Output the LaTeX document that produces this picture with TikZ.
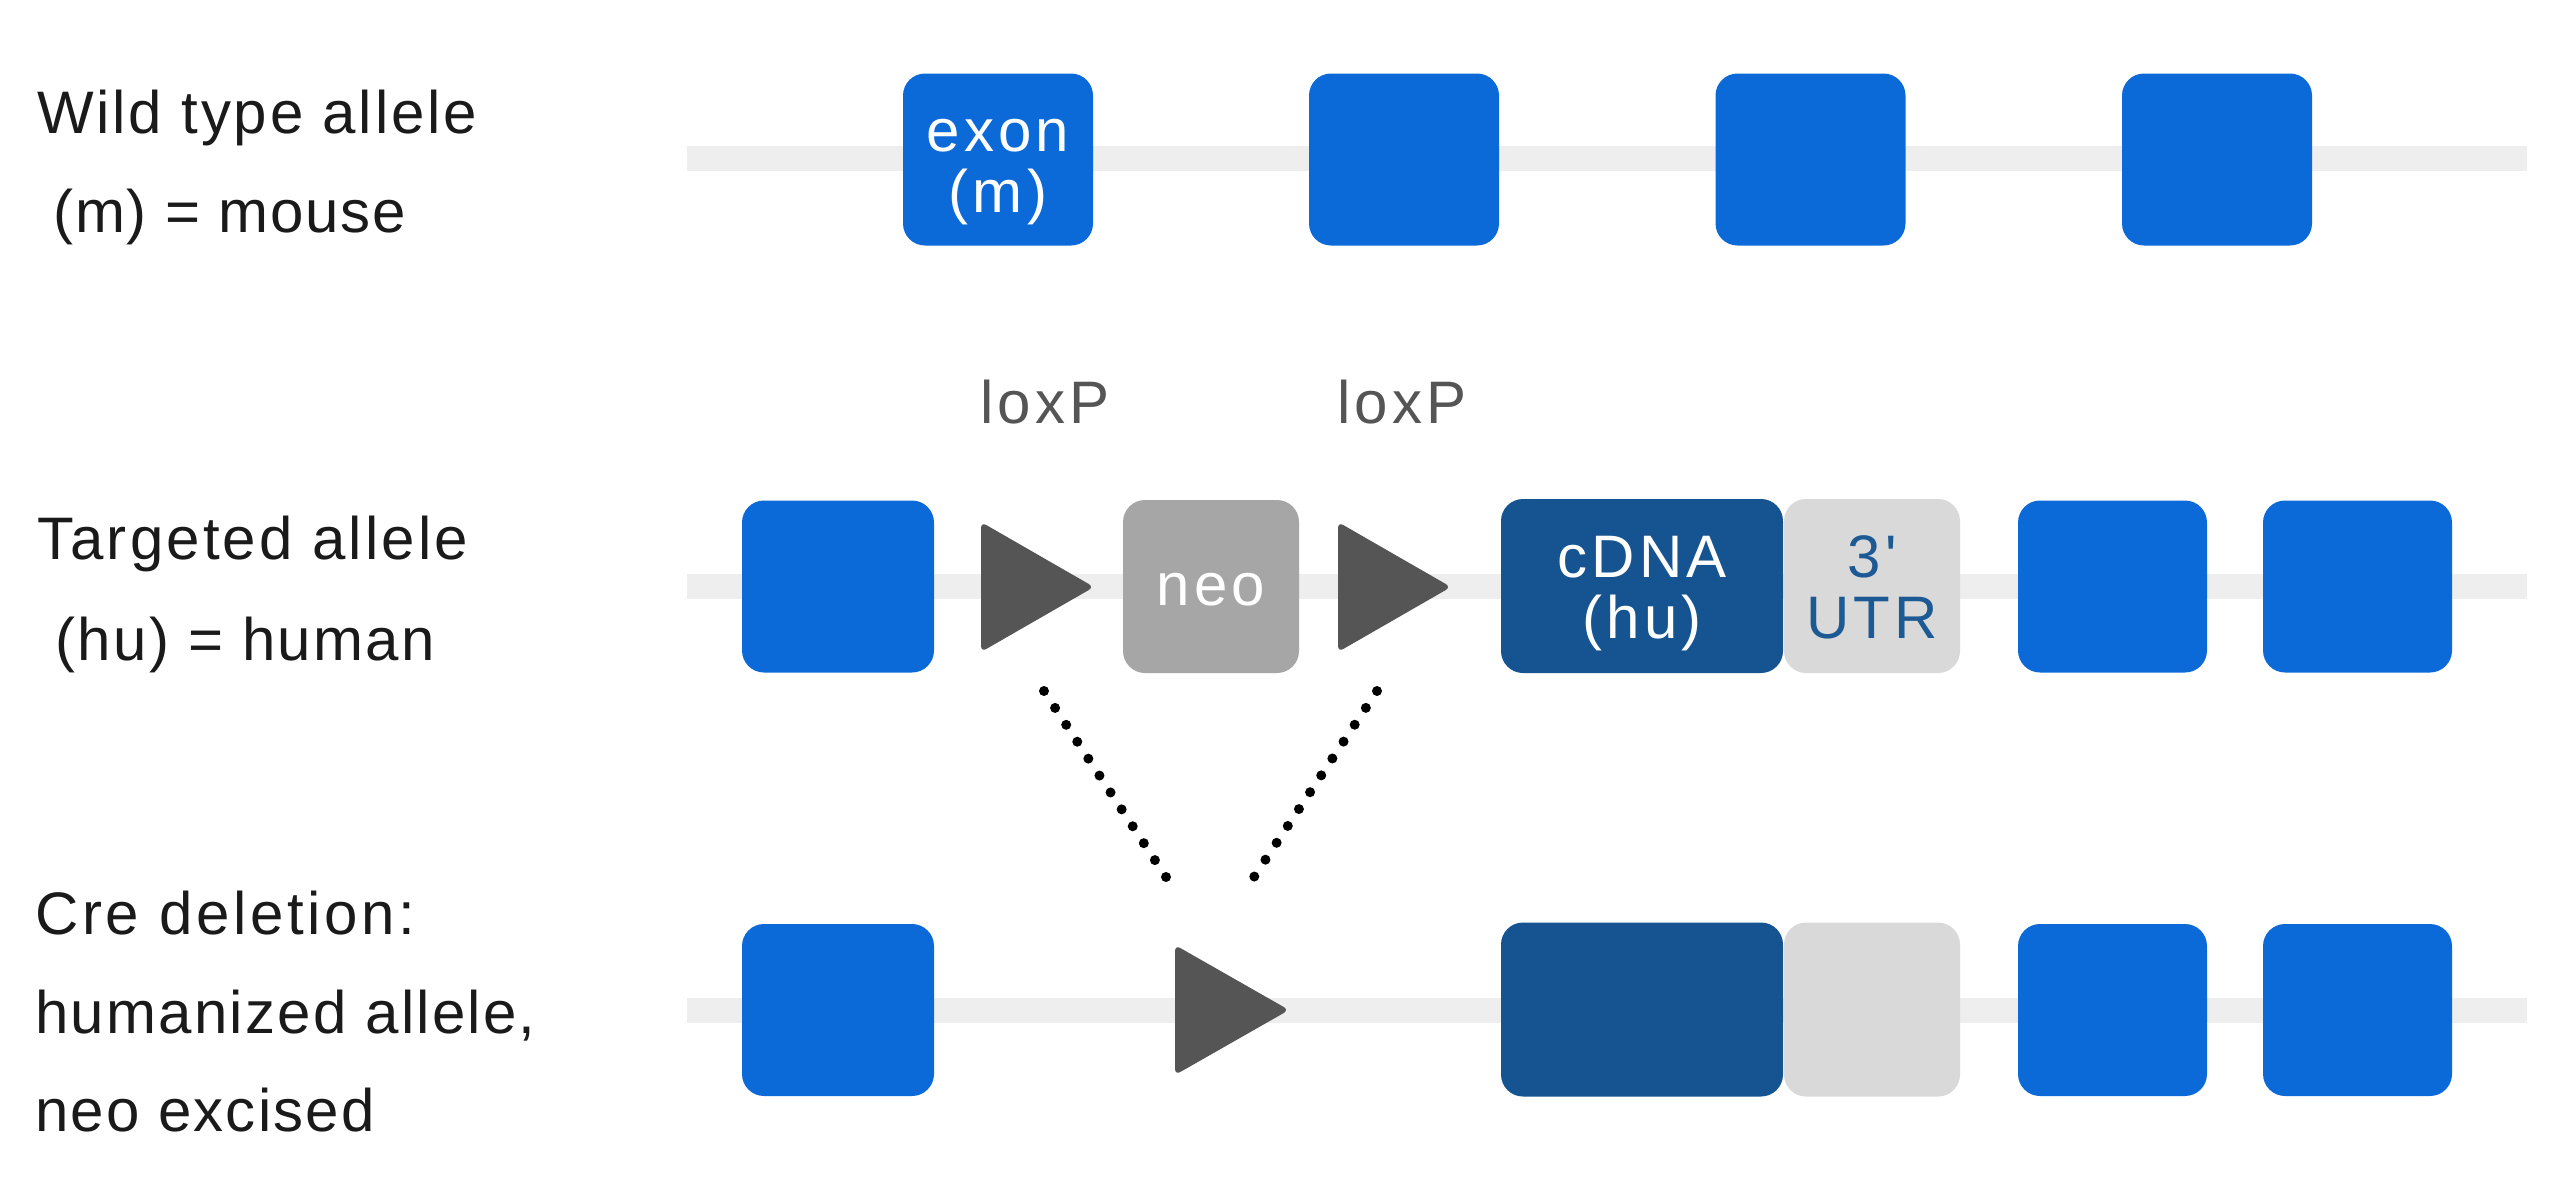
\documentclass[tikz,border=0pt]{standalone}
\usepackage{fontspec}
\setmainfont{Liberation Sans}
\newfontfamily\plainfont{Liberation Sans}
\newfontfamily\boxfont{Liberation Sans}[LetterSpace=7]
\definecolor{exonblue}{HTML}{0C6AD8}
\definecolor{cdnablue}{HTML}{155490}
\definecolor{utrgray}{HTML}{D9D9D9}
\definecolor{neogray}{HTML}{A6A6A6}
\definecolor{trigray}{HTML}{555555}
\definecolor{linegray}{HTML}{EEEEEE}
\definecolor{utrtext}{HTML}{1D5A93}
\definecolor{labeltext}{HTML}{1A1A1A}
\tikzset{
  backbone/.style={line width=12.5pt, draw=linegray},
  rbox/.style={rounded corners=11pt, inner sep=0pt, draw=none},
  exonbox/.style={rbox, fill=exonblue, minimum width=95pt, minimum height=86pt},
  neobox/.style={rbox, fill=neogray, minimum width=88pt, minimum height=86.5pt},
  cdnabox/.style={rbox, fill=cdnablue, minimum width=141pt, minimum height=87pt},
  utrbox/.style={rbox, fill=utrgray, minimum width=88pt, minimum height=87pt},
  loxtri/.style={fill=trigray, rounded corners=3pt},
  rowlabel/.style={anchor=base west, inner sep=0pt, text=labeltext,
    font=\plainfont\fontsize{30}{36}\selectfont\addfontfeature{LetterSpace=#1}},
  boxtext/.style={anchor=base, inner sep=0pt, font=\boxfont\fontsize{30}{36}\selectfont},
  loxtext/.style={anchor=base west, inner sep=0pt, text=trigray, font=\boxfont\fontsize{30}{36}\selectfont},
  dots/.style={draw=black, line width=5pt, line cap=round, dash pattern=on 0pt off 10.11pt},
}
\begin{document}
\begin{tikzpicture}[x=0.5pt, y=-0.5pt]
\useasboundingbox (0,0) rectangle (2560,1195);
\fill[white] (0,0) rectangle (2560,1195);

% ---------- left labels ----------
\node[rowlabel=4.6] (wt1) at (37,133) {Wild type allele};
\node[rowlabel=3] (wt2) at (53,232) {(m) = mouse};
\node[rowlabel=5.2] (tg1) at (37,559) {Targeted allele};
\node[rowlabel=3.9] (tg2) at (55,660) {(hu) = human};
\node[rowlabel=6] (cr1) at (35,934) {Cre deletion:};
\node[rowlabel=3.7] (cr2) at (35,1033) {humanized allele,};
\node[rowlabel=3.5] (cr3) at (35,1131) {neo excised};

% ---------- backbones ----------
\coordinate (b1s) at (687,158.5);  \coordinate (b1e) at (2527,158.5);
\coordinate (b2s) at (687,586.5);  \coordinate (b2e) at (2527,586.5);
\coordinate (b3s) at (687,1010.5); \coordinate (b3e) at (2527,1010.5);
\draw[backbone] (b1s) -- (b1e);
\draw[backbone] (b2s) -- (b2e);
\draw[backbone] (b3s) -- (b3e);

% ---------- row 1: wild type ----------
\node[exonbox] (w1) at (998,159.5) {};
\node[exonbox] (w2) at (1404,159.5) {};
\node[exonbox] (w3) at (1810.5,159.5) {};
\node[exonbox] (w4) at (2217,159.5) {};
\node[boxtext, text=white] (w1a) at (998,151) {exon};
\node[boxtext, text=white] (w1b) at (998,212) {(m)};

% ---------- row 2: targeted ----------
\node[exonbox, minimum width=96pt] (t1) at (838,586.5) {};
\fill[loxtri] (981,522) -- (1094,587) -- (981,652) -- cycle;
\coordinate (lox1) at (1030,587);
\node[neobox] (neo) at (1211,586.5) {};
\node[boxtext, text=white] (neotxt) at (1211,605) {neo};
\fill[loxtri] (1338,522) -- (1451,587) -- (1338,652) -- cycle;
\coordinate (lox2) at (1387,587);
\node[cdnabox] (cd) at (1642,586) {};
\node[boxtext, text=white] (cda) at (1642,577) {cDNA};
\node[boxtext, text=white] (cdb) at (1642,638) {(hu)};
\node[utrbox] (utr) at (1872,586) {};
\node[boxtext, text=utrtext] (utra) at (1872,577) {3'};
\node[boxtext, text=utrtext] (utrb) at (1872,638) {UTR};
\node[exonbox, minimum width=94.5pt] (t5) at (2112.5,586.5) {};
\node[exonbox, minimum width=94.5pt] (t6) at (2357.5,586.5) {};
\node[loxtext] (loxa) at (980,423) {loxP};
\node[loxtext] (loxb) at (1337,423) {loxP};

% ---------- row 3: Cre deletion ----------
\node[exonbox, minimum width=96pt] (c1) at (838,1010) {};
\fill[loxtri] (1175,945) -- (1289,1010) -- (1175,1075) -- cycle;
\coordinate (lox3) at (1225,1010);
\node[cdnabox] (cd3) at (1642,1009.5) {};
\node[utrbox] (utr3) at (1872,1009.5) {};
\node[exonbox, minimum width=94.5pt] (c5) at (2112.5,1010) {};
\node[exonbox, minimum width=94.5pt] (c6) at (2357.5,1010) {};

% ---------- dotted recombination lines ----------
\coordinate (d1s) at (1044,691); \coordinate (d1e) at (1166,877);
\coordinate (d2s) at (1377,691); \coordinate (d2e) at (1254,877);
\draw[dots] (d1s) -- (d1e);
\draw[dots] (d2s) -- (d2e);
\end{tikzpicture}
\end{document}
